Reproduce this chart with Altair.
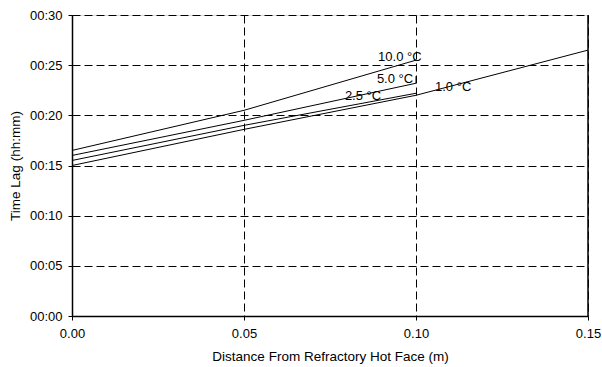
import altair as alt
import pandas as pd

# Series data (distance in m, time lag in minutes)
series_names = ["10.0 °C", "5.0 °C", "2.5 °C", "1.0 °C"]
x_10 = [0.00, 0.05, 0.10]
y_10 = [16.5, 20.5, 25.5]
x_5 = [0.00, 0.05, 0.10, 0.10]
y_5 = [16.0, 19.5, 23.2, 23.9]
x_25 = [0.00, 0.05, 0.10]
y_25 = [15.5, 19.0, 22.2]
x_1 = [0.00, 0.05, 0.10, 0.15]
y_1 = [15.0, 18.6, 22.0, 26.5]

label_text = ["10.0 °C", "5.0 °C", "2.5 °C", "1.0 °C"]
label_x = [0.0953, 0.0939, 0.0846, 0.1108]
label_y = [25.8, 23.6, 21.9, 22.8]

x_ticks = [0.00, 0.05, 0.10, 0.15]
y_ticks = [0, 5, 10, 15, 20, 25, 30]

rows = []
for name, xs, ys in zip(series_names, [x_10, x_5, x_25, x_1], [y_10, y_5, y_25, y_1]):
    for i, (a, b) in enumerate(zip(xs, ys)):
        rows.append({"series": name, "x": a, "y": b, "order": i})
df = pd.DataFrame(rows)
labels = pd.DataFrame({"text": label_text, "x": label_x, "y": label_y})

FONT = "Liberation Sans"
FS = 13

x_scale = alt.Scale(domain=[0, 0.15], nice=False, zero=False)
y_scale = alt.Scale(domain=[0, 30], nice=False)

x_axis = alt.Axis(
    values=x_ticks, format=".2f", title="Distance From Refractory Hot Face (m)",
    grid=True, gridColor="black", gridDash=[8, 4], gridWidth=1, gridOpacity=1,
    domainColor="black", domainWidth=1.5, tickColor="black", tickSize=4,
    labelFont=FONT, labelFontSize=FS, labelColor="black", labelPadding=7,
    labelFlush=False, labelOverlap=False,
    titleFont=FONT, titleFontSize=13.5, titleFontWeight="normal",
    titleColor="black", titlePadding=9,
)
y_axis = alt.Axis(
    values=y_ticks,
    labelExpr="'00:' + (datum.value < 10 ? '0' : '') + datum.value",
    title="Time Lag (hh:mm)",
    grid=True, gridColor="black", gridDash=[8, 4], gridWidth=1, gridOpacity=1,
    domainColor="black", domainWidth=1.5, tickColor="black", tickSize=4,
    labelFont=FONT, labelFontSize=FS, labelColor="black", labelPadding=6,
    labelFlush=False, labelOverlap=False,
    titleFont=FONT, titleFontSize=13.5, titleFontWeight="normal",
    titleColor="black", titlePadding=7,
)

lines = alt.Chart(df).mark_line(color="black", strokeWidth=1).encode(
    x=alt.X("x:Q", scale=x_scale, axis=x_axis),
    y=alt.Y("y:Q", scale=y_scale, axis=y_axis),
    detail="series:N",
    order="order:Q",
)

right_border = alt.Chart(pd.DataFrame({"x": [0.15]})).mark_rule(
    color="black", strokeWidth=1.5
).encode(x=alt.X("x:Q", scale=x_scale), y=alt.value(0), y2=alt.value(301))

text = alt.Chart(labels).mark_text(
    font=FONT, fontSize=FS, color="black", align="center", baseline="middle"
).encode(
    x=alt.X("x:Q", scale=x_scale),
    y=alt.Y("y:Q", scale=y_scale),
    text="text:N",
)

chart = alt.layer(lines, right_border, text).properties(
    width=516, height=301,
    autosize=alt.AutoSizeParams(type="none"),
    padding={"left": 72, "top": 15, "right": 14, "bottom": 51},
).configure_view(stroke=None).configure(background="white")

chart.save("out.html", embed_options={"renderer": "svg", "actions": False})
